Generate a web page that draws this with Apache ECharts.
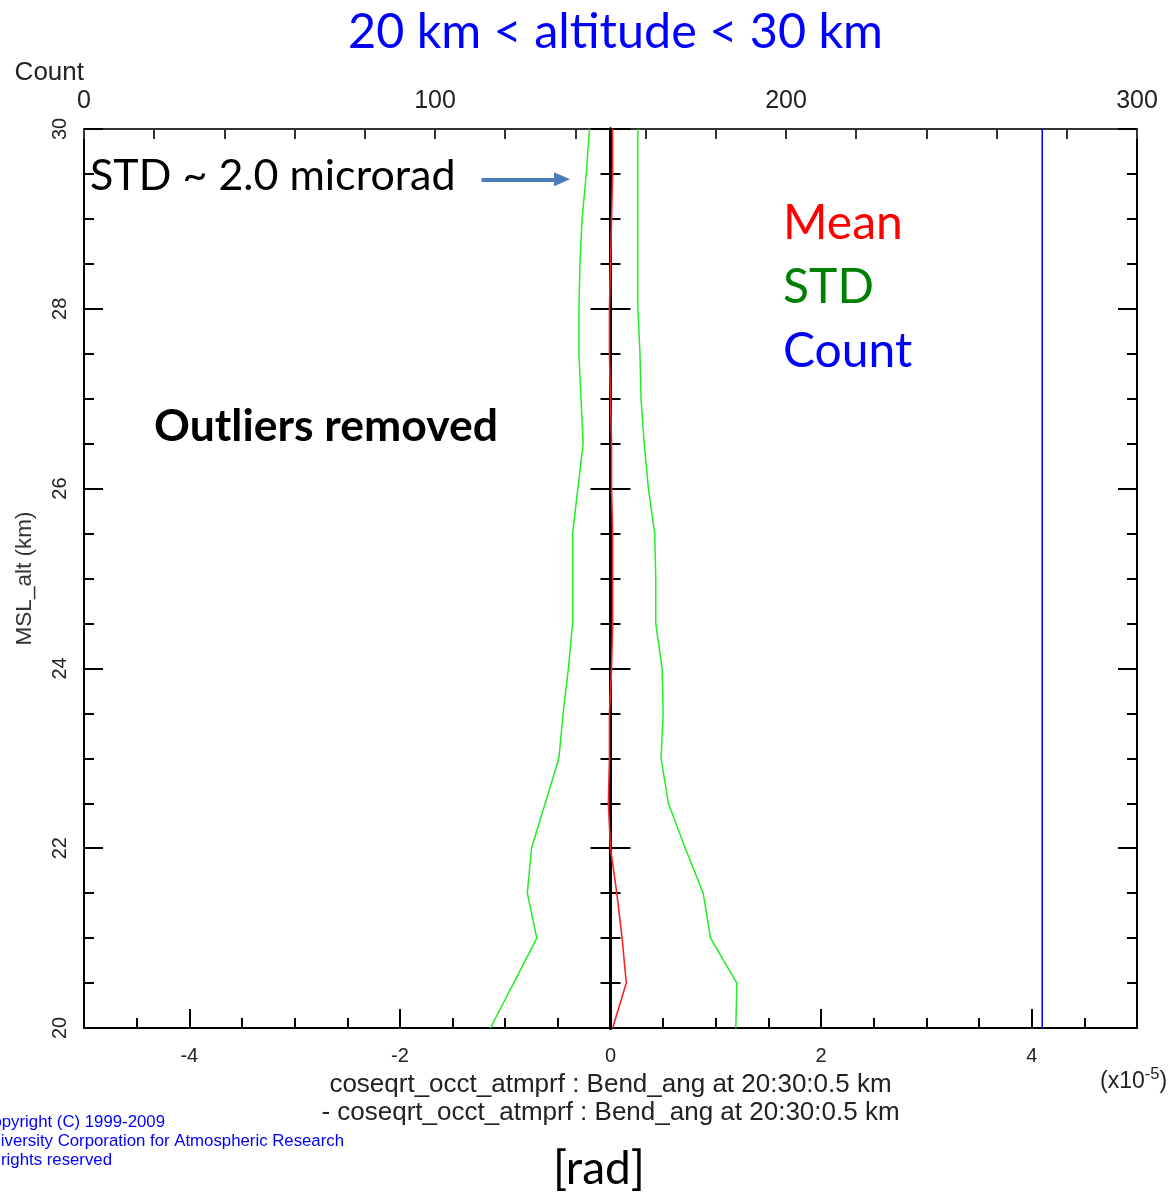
<!DOCTYPE html>
<html>
<head>
<meta charset="utf-8">
<script src="https://cdn.jsdelivr.net/npm/echarts@6/dist/echarts.min.js"></script>
<style>
html,body{margin:0;padding:0;background:#fff;}
#chart{width:1172px;height:1192px;}
</style>
</head>
<body>
<div id="chart"></div>
<script>
// ---- data ----
var altitudes = [20,20.5,21,21.5,22,22.5,23,23.5,24,24.5,25,25.5,26,26.5,27,27.5,28,28.5,29,29.5,30];
var meanVals  = [0.02,0.15,0.11,0.06,0.00,-0.02,-0.01,-0.01,0.01,0.02,0.02,0.02,0.01,0.01,0.00,-0.01,-0.01,0.00,0.01,0.02,0.02];
var stdLeft   = [-1.14,-0.92,-0.70,-0.79,-0.75,-0.62,-0.49,-0.45,-0.40,-0.36,-0.36,-0.36,-0.31,-0.26,-0.28,-0.30,-0.30,-0.29,-0.27,-0.23,-0.20];
var stdRight  = [1.19,1.20,0.95,0.88,0.71,0.55,0.48,0.50,0.49,0.43,0.43,0.42,0.36,0.32,0.29,0.28,0.26,0.26,0.26,0.26,0.26];
var countVals = [273,273,273,273,273,273,273,273,273,273,273,273,273,273,273,273,273,273,273,273,273];
var xMajorTicks = [-4,-2,0,2,4];
var yMajorTicks = [20,22,24,26,28,30];
var countLabels = [0,100,200,300];

function pairs(xs){ return xs.map(function(v,i){ return [v, altitudes[i]]; }); }

var chart = echarts.init(document.getElementById('chart'));
var AX = 'Liberation Sans';
var CAL = 'Lato';
var blackLine = {color:'#000', width:2};

function yTickAxis(extra){
  var base = {type:'value', min:20, max:30, interval:0.5, gridIndex:0,
    axisLine:{show:false, onZero:false}, axisLabel:{show:false}, splitLine:{show:false}};
  for (var k in extra) base[k] = extra[k];
  return base;
}

var option = {
  backgroundColor:'#fff',
  animation:false,
  title:{
    text:'20 km < altitude < 30 km', left:343, top:3,
    textStyle:{fontFamily:CAL, fontSize:48.5, fontWeight:'normal', color:'#0000ff'}
  },
  grid:{left:84, right:35, top:129, bottom:164, containLabel:false, outerBoundsMode:'none'},
  legend:{
    orient:'vertical', left:773, top:194, selectedMode:false,
    icon:'rect', itemWidth:0, itemHeight:0, itemGap:14,
    textStyle:{fontFamily:CAL, fontSize:48, lineHeight:50},
    data:[
      {name:'Mean', textStyle:{color:'#ff0000'}},
      {name:'STD', textStyle:{color:'#008000'}},
      {name:'Count', textStyle:{color:'#0000ff'}}
    ]
  },
  xAxis:[
    {type:'value', min:-5, max:5, interval:0.5, position:'bottom', gridIndex:0,
     axisLine:{onZero:false, lineStyle:blackLine},
     axisTick:{inside:true, length:10, lineStyle:{color:'#000', width:2}},
     axisLabel:{fontFamily:AX, fontSize:20, color:'#222', margin:18,
       formatter:function(v){ return xMajorTicks.indexOf(v) >= 0 ? String(v) : ''; }},
     splitLine:{show:false},
     name:'coseqrt_occt_atmprf : Bend_ang at 20:30:0.5 km\n- coseqrt_occt_atmprf : Bend_ang at 20:30:0.5 km',
     nameLocation:'middle', nameGap:26,
     nameTextStyle:{fontFamily:AX, fontSize:26, color:'#222', lineHeight:28, verticalAlign:'top'}
    },
    {type:'value', min:-5, max:5, interval:0.5, position:'bottom', gridIndex:0,
     axisLine:{show:false, onZero:false},
     axisTick:{inside:true, length:19, customValues:xMajorTicks, lineStyle:{color:'#000', width:2}},
     axisLabel:{show:false}, splitLine:{show:false}},
    {type:'value', min:0, max:300, interval:20, position:'top', gridIndex:0,
     axisLine:{onZero:false, lineStyle:{color:'#333', width:2}},
     axisTick:{inside:true, length:10, lineStyle:{color:'#333', width:2}},
     axisLabel:{fontFamily:AX, fontSize:25, color:'#222', margin:15,
       formatter:function(v){ return countLabels.indexOf(v) >= 0 ? String(v) : ''; }},
     splitLine:{show:false},
     name:'Count', nameLocation:'start', nameGap:0,
     nameTextStyle:{fontFamily:AX, fontSize:26, color:'#222', align:'right', verticalAlign:'bottom', padding:[0,0,43,0]}
    }
  ],
  yAxis:[
    {type:'value', min:20, max:30, interval:0.5, position:'left', gridIndex:0,
     axisLine:{onZero:false, lineStyle:blackLine},
     axisTick:{inside:true, length:10, lineStyle:{color:'#000', width:2}},
     axisLabel:{fontFamily:AX, fontSize:20, color:'#222', rotate:90, margin:14,
       formatter:function(v){ return yMajorTicks.indexOf(v) >= 0 ? String(v) : ''; }},
     splitLine:{show:false},
     name:'MSL_alt (km)', nameLocation:'middle', nameGap:48, nameRotate:90,
     nameTextStyle:{fontFamily:AX, fontSize:22.5, color:'#333'}
    },
    yTickAxis({position:'left', axisTick:{inside:true, length:19, customValues:yMajorTicks, lineStyle:{color:'#000', width:2}}}),
    yTickAxis({position:'right', axisLine:{show:true, onZero:false, lineStyle:blackLine},
      axisTick:{inside:true, length:10, lineStyle:{color:'#000', width:2}}}),
    yTickAxis({position:'right', axisTick:{inside:true, length:19, customValues:yMajorTicks, lineStyle:{color:'#000', width:2}}}),
    // centre line at x = 0 with crossing ticks
    yTickAxis({position:'left', axisLine:{show:true, onZero:true, onZeroAxisIndex:0, lineStyle:{color:'#000', width:3}},
      axisTick:{inside:true, length:10, lineStyle:{color:'#000', width:2}}}),
    yTickAxis({position:'left', axisLine:{show:true, onZero:true, onZeroAxisIndex:0, lineStyle:{color:'#000', width:3}},
      axisTick:{inside:false, length:10, lineStyle:{color:'#000', width:2}}}),
    yTickAxis({position:'left', axisLine:{show:true, onZero:true, onZeroAxisIndex:0, lineStyle:{color:'#000', width:3}},
      axisTick:{inside:true, length:20, customValues:yMajorTicks, lineStyle:{color:'#000', width:2}}}),
    yTickAxis({position:'left', axisLine:{show:true, onZero:true, onZeroAxisIndex:0, lineStyle:{color:'#000', width:3}},
      axisTick:{inside:false, length:20, customValues:yMajorTicks, lineStyle:{color:'#000', width:2}}})
  ],
  series:[
    {name:'STD', type:'line', xAxisIndex:0, yAxisIndex:0, data:pairs(stdLeft), showSymbol:false, symbol:'none',
     lineStyle:{color:'#22ee22', width:1.5}, itemStyle:{color:'#008000'}, z:3},
    {name:'STD', type:'line', xAxisIndex:0, yAxisIndex:0, data:pairs(stdRight), showSymbol:false, symbol:'none',
     lineStyle:{color:'#22ee22', width:1.5}, itemStyle:{color:'#008000'}, z:3},
    {name:'Count', type:'line', xAxisIndex:2, yAxisIndex:0, data:pairs(countVals), showSymbol:false, symbol:'none',
     lineStyle:{color:'#0000ff', width:1.5}, itemStyle:{color:'#0000ff'}, z:3},
    {name:'Mean', type:'line', xAxisIndex:0, yAxisIndex:0, data:pairs(meanVals), showSymbol:false, symbol:'none',
     lineStyle:{color:'#ff2222', width:1.6}, itemStyle:{color:'#ff0000'}, z:4,
     markLine:{silent:true, symbol:['none','triangle'], symbolSize:[14,16], animation:false,
       label:{show:false}, lineStyle:{color:'#4a7ebb', width:4, type:'solid'},
       data:[[{coord:[-1.225, 29.44]}, {coord:[-0.46, 29.44]}]]}
    }
  ],
  graphic:[
    {type:'text', left:90, top:155, style:{text:'STD ~ 2.0 microrad', fontFamily:CAL, fontSize:43, fill:'#000'}},
    {type:'text', left:154, top:404, style:{text:'Outliers removed', fontFamily:CAL, fontWeight:'bold', fontSize:44.5, fill:'#000'}},
    {type:'text', left:553, top:1146, style:{text:'[rad]', fontFamily:CAL, fontSize:46, fill:'#000'}},
    {type:'text', left:1100, top:1066, style:{
      text:'(x10{s|-5})', fontFamily:AX, fontSize:23, fill:'#222',
      rich:{s:{fontFamily:AX, fontSize:16.5, fill:'#222', verticalAlign:'top', padding:[0,0,14,0]}}}},
    {type:'text', x:165, y:1122, style:{text:'Copyright (C) 1999-2009', fontFamily:AX, fontSize:16.8, fill:'#0000ff', align:'right', verticalAlign:'middle'}},
    {type:'text', x:344, y:1141, style:{text:'University Corporation for Atmospheric Research', fontFamily:AX, fontSize:16.8, fill:'#0000ff', align:'right', verticalAlign:'middle'}},
    {type:'text', x:112, y:1160, style:{text:'All rights reserved', fontFamily:AX, fontSize:16.8, fill:'#0000ff', align:'right', verticalAlign:'middle'}}
  ]
};
chart.setOption(option);
</script>
</body>
</html>
